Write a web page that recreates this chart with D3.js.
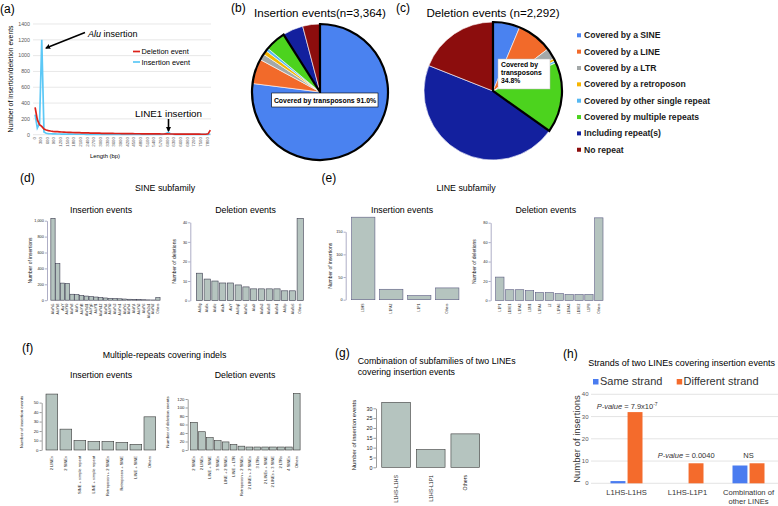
<!DOCTYPE html>
<html><head><meta charset="utf-8">
<script src="https://cdn.jsdelivr.net/npm/d3@7"></script>
<style>body{margin:0;background:#fff}svg{display:block}text{font-family:"Liberation Sans",Arial,Helvetica,sans-serif}</style>
</head><body><svg id="c" width="778" height="506"></svg>
<script>
// ---------- DATA ----------
// (a) indel length distribution (100-bp bins, bin centres)
const lengthBins = [50,150,250,350,450,550,650,750,850,950,1050,1150,1250,1350,1450,1550,1650,1750,1850,1950,2050,2150,2250,2350,2450,2550,2650,2750,2850,2950,3050,3150,3250,3350,3450,3550,3650,3750,3850,3950,4050,4150,4250,4350,4450,4550,4650,4750,4850,4950,5050,5150,5250,5350,5450,5550,5650,5750,5850,5950,6050,6150,6250,6350,6450,6550,6650,6750,6850,6950,7050,7150,7250,7350,7450,7550,7650,7750,7850,7950];
const deletionCounts = [345,190,125,105,72,60,52,47,43,40,38,36,34,33,31,30,29,28,27,26,25,24,23,22,22,21,20,20,19,19,18,18,17,17,16,16,15,15,15,14,14,14,13,13,13,12,12,12,11,11,11,11,10,10,10,10,10,9,9,10,11,9,9,8,8,8,8,8,8,7,7,7,7,7,7,6,6,6,11,58];
const insertionCounts = [255,85,140,1200,35,18,14,12,11,10,9,9,8,8,8,7,7,7,6,6,6,6,6,5,6,5,5,5,5,5,4,5,4,5,4,4,4,5,4,4,4,4,4,3,4,4,3,4,4,3,4,3,4,3,4,4,4,5,7,14,32,12,6,5,4,4,4,3,4,4,3,4,3,3,4,3,3,4,4,7];
const aYTicks = [0,200,400,600,800,1000,1200,1400];
const aXTicks = [0,300,600,900,1200,1500,1800,2100,2400,2700,3000,3300,3600,3900,4200,4500,4800,5100,5400,5700,6000,6300,6600,6900,7200,7500,7800];

// (b),(c) pies
const repeatClasses = ["Covered by a SINE","Covered by a LINE","Covered by a LTR","Covered by a retroposon","Covered by other single repeat","Covered by multiple repeats","Including repeat(s)","No repeat"];
const insertionPct = [77.0,5.9,1.5,1.0,0.7,4.9,4.9,4.1];
const deletionPct  = [6.3,8.3,2.6,0.6,0.5,16.5,46.2,19.0];
const repeatColors = ["#4a82f0","#f26a2a","#a3a8a8","#f7b500","#56b8f2","#4cd31e","#13209e","#8c0d0d"];

// (d) SINE subfamily
const sineInsCats = ["AluYa5","AluYb8","AluY","AluYb9","AluYa8","AluYc","AluYd8","AluYk11","AluYg6","AluYf1","AluYk12","AluYk4","AluYh9","AluYc3","AluYm1","AluYe5","AluYa4","AluYj4","AluYh3","AluYi6","AluYb3a1","AluYk2","Others"];
const sineInsVals = [1030,460,215,210,75,70,60,52,46,40,34,28,24,21,18,15,12,10,8,6,4,3,32];
const sineDelCats = ["AluSg","AluSx","AluSz","AluJb","AluY","AluSq2","AluYa5","AluJr","AluSx3","AluSc8","AluSx1","AluSp","AluSz6","Others"];
const sineDelVals = [14,11,10,9,9,8,7,6,6,6,6,5,5,42];
// (e) LINE subfamily
const lineInsCats = ["L1HS","L1PA2","L1P1","Others"];
const lineInsVals = [182,23,9,26];
const lineDelCats = ["L1P1","L1ME1","L1PA3","L1M1","L1PA4","L2","L1PA6","L1MA3","L1ME2","L1PB","Others"];
const lineDelVals = [24,11,11,10,8,8,7,6,6,6,85];
// (f) multiple repeats
const multiInsCats = ["2 LINEs","2 SINEs","SINE + simple repeat","LINE + simple repeat","Retroposon + 2 SINEs","Retroposon + SINE","LINE + SINE","Others"];
const multiInsVals = [59,22,10,9,9,8,6,35];
const multiDelCats = ["2 SINEs","2 LINEs","LINE + SINE","3 SINEs","LINE + 2 SINEs","LINE + LTR","Retroposon + 2 SINEs","2 LINEs + 2 SINEs","3 LTRs","2 LINEs + SINE","2 LINEs + 3 SINE","2 LTRs","4 SINEs","Others"];
const multiDelVals = [65,43,29,22,19,13,9,7,7,7,7,7,7,133];
// (g) two-LINE combinations
const twoLineCats = ["L1HS-L1HS","L1HS-L1P1","Others"];
const twoLineVals = [33,9,17];
// (h) strands
const strandCats = ["L1HS-L1HS","L1HS-L1P1","Combination of other LINEs"];
const sameStrand = [1,0,8];
const differentStrand = [32,9,9];

// ---------- HELPERS ----------
const FONT = '"Liberation Sans", Arial, Helvetica, sans-serif';
const svg = d3.select("#c");
svg.append("rect").attr("width",778).attr("height",506).attr("fill","#fff");
function T(x,y,s,o={}){
  const t = svg.append("text").attr("x",x).attr("y",y).text(s)
    .attr("font-size",o.size||10).attr("fill",o.fill||"#000")
    .attr("text-anchor",o.anchor||"start");
  if(o.weight) t.attr("font-weight",o.weight);
  if(o.style) t.attr("font-style",o.style);
  if(o.rotate) t.attr("transform",`rotate(${o.rotate},${x},${y})`);
  return t;
}
const defs = svg.append("defs");
defs.append("marker").attr("id","ah").attr("viewBox","0 0 10 10").attr("refX",8).attr("refY",5)
  .attr("markerWidth",3.2).attr("markerHeight",3.2).attr("orient","auto")
  .append("path").attr("d","M0,0L10,5L0,10z").attr("fill","#000");

// ---------- (a) ----------
T(0,13,"(a)",{size:12});
const ax = d3.scaleLinear().domain([0,7800]).range([34,207]);
const ay = d3.scaleLinear().domain([0,1400]).range([134.7,24]);
svg.append("g").selectAll("line").data(aYTicks).join("line")
  .attr("x1",33).attr("x2",211).attr("y1",d=>ay(d)).attr("y2",d=>ay(d))
  .attr("stroke","#d9d9d9").attr("stroke-width",0.6);
aYTicks.forEach(v=>T(30,ay(v)+1.8,v,{size:5.3,anchor:"end",fill:"#595959"}));
aXTicks.forEach(v=>T(ax(v)+1.5,137,v,{size:4.4,anchor:"end",rotate:-90,fill:"#595959"}));
const aLine = vals => d3.line().x((d,i)=>ax(lengthBins[i])).y(d=>ay(d))(vals);
svg.append("path").attr("d",aLine(insertionCounts)).attr("fill","none").attr("stroke","#5cc8f6").attr("stroke-width",1.7);
svg.append("path").attr("d",aLine(deletionCounts)).attr("fill","none").attr("stroke","#dc2119").attr("stroke-width",1.7);
T(12.5,79,"Number of insertion/deletion events",{size:6.8,anchor:"middle",rotate:-90});
T(105,158,"Length (bp)",{size:5.9,anchor:"middle"});
svg.append("line").attr("x1",133).attr("x2",140).attr("y1",51.5).attr("y2",51.5).attr("stroke","#dc2119").attr("stroke-width",1.7);
T(141.5,54,"Deletion event",{size:7.4});
svg.append("line").attr("x1",133).attr("x2",140).attr("y1",62).attr("y2",62).attr("stroke","#5cc8f6").attr("stroke-width",1.7);
T(141.5,64.6,"Insertion event",{size:7.4});
const alu = T(88,37,"",{size:9});
alu.append("tspan").attr("font-style","italic").text("Alu");
alu.append("tspan").text(" insertion");
svg.append("line").attr("x1",85).attr("y1",32.5).attr("x2",46).attr("y2",48).attr("stroke","#000").attr("stroke-width",1.6).attr("marker-end","url(#ah)");
T(135,117,"LINE1 insertion",{size:9.8});
svg.append("line").attr("x1",168.5).attr("y1",119).attr("x2",168.5).attr("y2",131).attr("stroke","#000").attr("stroke-width",1.6).attr("marker-end","url(#ah)");

// ---------- (b),(c) pies ----------
function pieChart(vals,cx,cy,r){
  const g = svg.append("g").attr("transform",`translate(${cx},${cy})`);
  const arcs = d3.pie().sort(null).value(d=>d)(vals);
  const arc = d3.arc().innerRadius(0).outerRadius(r);
  g.selectAll("path").data(arcs).join("path").attr("d",arc)
    .attr("fill",(d,i)=>repeatColors[i]).attr("stroke","#fff").attr("stroke-width",0.6);
  const end = arcs[5].endAngle;
  g.append("path").attr("d",d3.arc()({innerRadius:0,outerRadius:r,startAngle:0,endAngle:end}))
    .attr("fill","none").attr("stroke","#000").attr("stroke-width",2.2);
  return g;
}
T(231,12,"(b)",{size:12});
T(320,17,"Insertion events(n=3,364)",{size:11.6,anchor:"middle"});
pieChart(insertionPct,320,92,68);
svg.append("rect").attr("x",271.7).attr("y",93).attr("width",106.3).attr("height",14).attr("fill","#fff").attr("stroke","#000").attr("stroke-width",0.6);
T(325,102.6,"Covered by transposons 91.0%",{size:6.9,weight:"bold",anchor:"middle"});

T(396,12,"(c)",{size:12});
T(493,17,"Deletion events (n=2,292)",{size:11.6,anchor:"middle"});
pieChart(deletionPct,493,91,69);
svg.append("rect").attr("x",498).attr("y",59).attr("width",52).attr("height",30).attr("fill","#fff").attr("stroke","#bbb").attr("stroke-width",0.5);
T(501,67,"Covered by",{size:6.8,weight:"bold"});
T(501,75,"transposons",{size:6.8,weight:"bold"});
T(501,83.3,"34.8%",{size:6.8,weight:"bold"});
svg.append("line").attr("x1",498).attr("y1",86).attr("x2",494.5).attr("y2",89.5).attr("stroke","#f26a2a").attr("stroke-width",0.8);

// legend
repeatClasses.forEach((c,i)=>{
  const yy = 35.3 + i*16.35;
  svg.append("rect").attr("x",577).attr("y",yy-2).attr("width",4).attr("height",4).attr("fill",repeatColors[i]);
  T(584,yy+3,c,{size:8.6,weight:"bold",fill:"#1a1a1a"});
});

// ---------- bar chart helper ----------
function bars(cfg){
  const x = d3.scaleBand().domain(cfg.cats).range(cfg.xr).paddingInner(cfg.pad).paddingOuter(cfg.pad/2);
  const y = d3.scaleLinear().domain([0,cfg.ymax]).range([cfg.y0,cfg.ytop]);
  svg.append("g").selectAll("rect").data(cfg.vals).join("rect")
    .attr("x",(d,i)=>x(cfg.cats[i])).attr("width",x.bandwidth())
    .attr("y",d=>y(d)).attr("height",d=>cfg.y0-y(d))
    .attr("fill","#b5c4bf").attr("stroke",cfg.bs).attr("stroke-width",0.6);
  const ag = svg.append("g").attr("transform",`translate(${cfg.ax},0)`)
    .call(d3.axisLeft(y).tickValues(cfg.ticks).tickSize(cfg.tl||2.2).tickSizeOuter(0).tickPadding(1));
  ag.select(".domain").attr("stroke",cfg.axc).attr("stroke-width",0.5);
  ag.selectAll(".tick line").attr("stroke",cfg.axc).attr("stroke-width",0.5);
  ag.selectAll("text").attr("font-size",cfg.tf).attr("font-family",FONT).attr("fill","#222");
  cfg.cats.forEach(c=>T(x(c)+x.bandwidth()/2+cfg.cf*0.35,cfg.ly,c,{size:cfg.cf,anchor:"end",rotate:-90,fill:"#222"}));
  T(cfg.ylx,cfg.yly||(cfg.y0+cfg.ytop)/2,cfg.ylab,{size:cfg.yf,anchor:"middle",rotate:-90,fill:"#222"});
}
const DE = "#5c5c8c", FG = "#3a3a3a";

// ---------- (d) ----------
T(20,182,"(d)",{size:12});
T(165,190.7,"SINE subfamily",{size:8.8,anchor:"middle"});
T(101,212.7,"Insertion events",{size:8.8,anchor:"middle"});
T(245.5,212.7,"Deletion events",{size:8.8,anchor:"middle"});
bars({cats:sineInsCats,vals:sineInsVals,xr:[50.6,160.3],pad:0.1,y0:300.2,ytop:220.7,ymax:1000,
  ticks:[0,200,400,600,800,1000],ax:47,tf:3.8,ly:303.5,cf:3.4,ylab:"Number of insertions",ylx:32.3,yf:5,axc:DE,bs:"#3c3c50"});
bars({cats:sineDelCats,vals:sineDelVals,xr:[195.6,304.1],pad:0.19,y0:300.6,ytop:222.3,ymax:40,
  ticks:[0,10,20,30,40],ax:190.3,tf:3.8,ly:303.5,cf:3.4,ylab:"Number of deletions",ylx:175.8,yf:5,axc:DE,bs:"#3c3c50"});

// ---------- (e) ----------
T(321.5,182,"(e)",{size:12});
T(466,190.7,"LINE subfamily",{size:8.8,anchor:"middle"});
T(402,212.7,"Insertion events",{size:8.8,anchor:"middle"});
T(545.8,212.7,"Deletion events",{size:8.8,anchor:"middle"});
bars({cats:lineInsCats,vals:lineInsVals,xr:[349.3,461.3],pad:0.17,y0:299.7,ytop:231.7,ymax:150,
  ticks:[0,50,100,150],ax:345.7,tf:3.8,ly:303.5,cf:3.4,ylab:"Number of insertions",ylx:331.8,yf:5,axc:DE,bs:"#5a5a80"});
bars({cats:lineDelCats,vals:lineDelVals,xr:[494.9,603.8],pad:0.16,y0:300.4,ytop:222.7,ymax:80,
  ticks:[0,20,40,60,80],ax:490.7,tf:3.8,ly:303.5,cf:3.4,ylab:"Number of deletions",ylx:475.8,yf:5,axc:DE,bs:"#5a5a80"});

// ---------- (f) ----------
T(22,352,"(f)",{size:12});
T(164.5,357.7,"Multiple-repeats covering indels",{size:8.8,anchor:"middle"});
T(101,377.7,"Insertion events",{size:8.8,anchor:"middle"});
T(245,377.7,"Deletion events",{size:8.8,anchor:"middle"});
bars({cats:multiInsCats,vals:multiInsVals,xr:[44.85,156.85],pad:0.164,y0:450,ytop:402.6,ymax:50,
  ticks:[0,10,20,30,40,50],ax:41.7,tf:4.3,ly:456,cf:4,ylab:"Number of insertion events",ylx:23.3,yly:422,yf:4.4,axc:FG,bs:FG});
bars({cats:multiDelCats,vals:multiDelVals,xr:[190.1,300.7],pad:0.15,y0:450,ytop:399,ymax:120,
  ticks:[0,20,40,60,80,100,120],ax:187.7,tf:4.3,ly:456,cf:4,ylab:"Number of deletion events",ylx:169.2,yly:422,yf:4.4,axc:FG,bs:FG});

// ---------- (g) ----------
T(335,357,"(g)",{size:12});
T(357.7,364.3,"Combination of subfamilies of two LINEs",{size:8.8});
T(357.7,375,"covering insertion events",{size:8.8});
bars({cats:twoLineCats,vals:twoLineVals,xr:[378.8,482.6],pad:0.17,y0:467.3,ytop:408.3,ymax:30,
  ticks:[0,5,10,15,20,25,30],ax:376,tf:5.4,tl:2.6,ly:475,cf:5.2,ylab:"Number of insertion events",ylx:356,yly:435,yf:5.9,axc:FG,bs:FG});

// ---------- (h) ----------
T(563,358,"(h)",{size:12});
T(588.3,365.7,"Strands of two LINEs covering insertion events",{size:9});
const hx = d3.scaleBand().domain(strandCats).range([596,779]);
const hx1 = d3.scaleBand().domain(["same","diff"]).range([0,32]).paddingInner(0.125);
const hy = d3.scaleLinear().domain([0,40]).range([483.3,394.3]);
const hTicks = [0,10,20,30,40];
svg.append("g").selectAll("line").data(hTicks).join("line")
  .attr("x1",591).attr("x2",778).attr("y1",d=>hy(d)).attr("y2",d=>hy(d))
  .attr("stroke","#d9d9d9").attr("stroke-width",0.7);
hTicks.forEach(v=>T(588.5,hy(v)+2,v,{size:6,anchor:"end",fill:"#595959"}));
const hColors = {same:"#4a7cf0",diff:"#f46b2c"};
strandCats.forEach((c,i)=>{
  const gx = hx(c)+hx.bandwidth()/2-16;
  [["same",sameStrand[i]],["diff",differentStrand[i]]].forEach(([k,v])=>{
    if(v>0) svg.append("rect").attr("x",gx+hx1(k)).attr("width",hx1.bandwidth())
      .attr("y",hy(v)).attr("height",hy(0)-hy(v)).attr("fill",hColors[k]);
  });
});
T(hx("L1HS-L1HS")+hx.bandwidth()/2,495.3,"L1HS-L1HS",{size:7.6,anchor:"middle",fill:"#333"});
T(hx("L1HS-L1P1")+hx.bandwidth()/2,495.3,"L1HS-L1P1",{size:7.6,anchor:"middle",fill:"#333"});
const c3 = hx("Combination of other LINEs")+hx.bandwidth()/2;
T(c3,495.3,"Combination of",{size:7.6,anchor:"middle",fill:"#333"});
T(c3,504,"other LINEs",{size:7.6,anchor:"middle",fill:"#333"});
T(580,439,"Number of insertions",{size:9.5,anchor:"middle",rotate:-90,fill:"#333"});
svg.append("rect").attr("x",593).attr("y",379).attr("width",5.5).attr("height",5.5).attr("fill",hColors.same);
T(600,385,"Same strand",{size:11,fill:"#333"});
svg.append("rect").attr("x",676.7).attr("y",379).attr("width",5.5).attr("height",5.5).attr("fill",hColors.diff);
T(683.5,385,"Different strand",{size:11,fill:"#333"});
const p1 = T(596.7,408.5,"",{size:7.5,fill:"#333"});
p1.append("tspan").attr("font-style","italic").text("P-value");
p1.append("tspan").text(" = 7.9x10");
p1.append("tspan").attr("dy",-3).attr("font-size",5).text("-7");
const p2 = T(657.7,458.3,"",{size:7.5,fill:"#333"});
p2.append("tspan").attr("font-style","italic").text("P-value");
p2.append("tspan").text(" = 0.0040");
T(748.5,458.3,"NS",{size:7.5,anchor:"middle",fill:"#333"});
</script></body></html>
